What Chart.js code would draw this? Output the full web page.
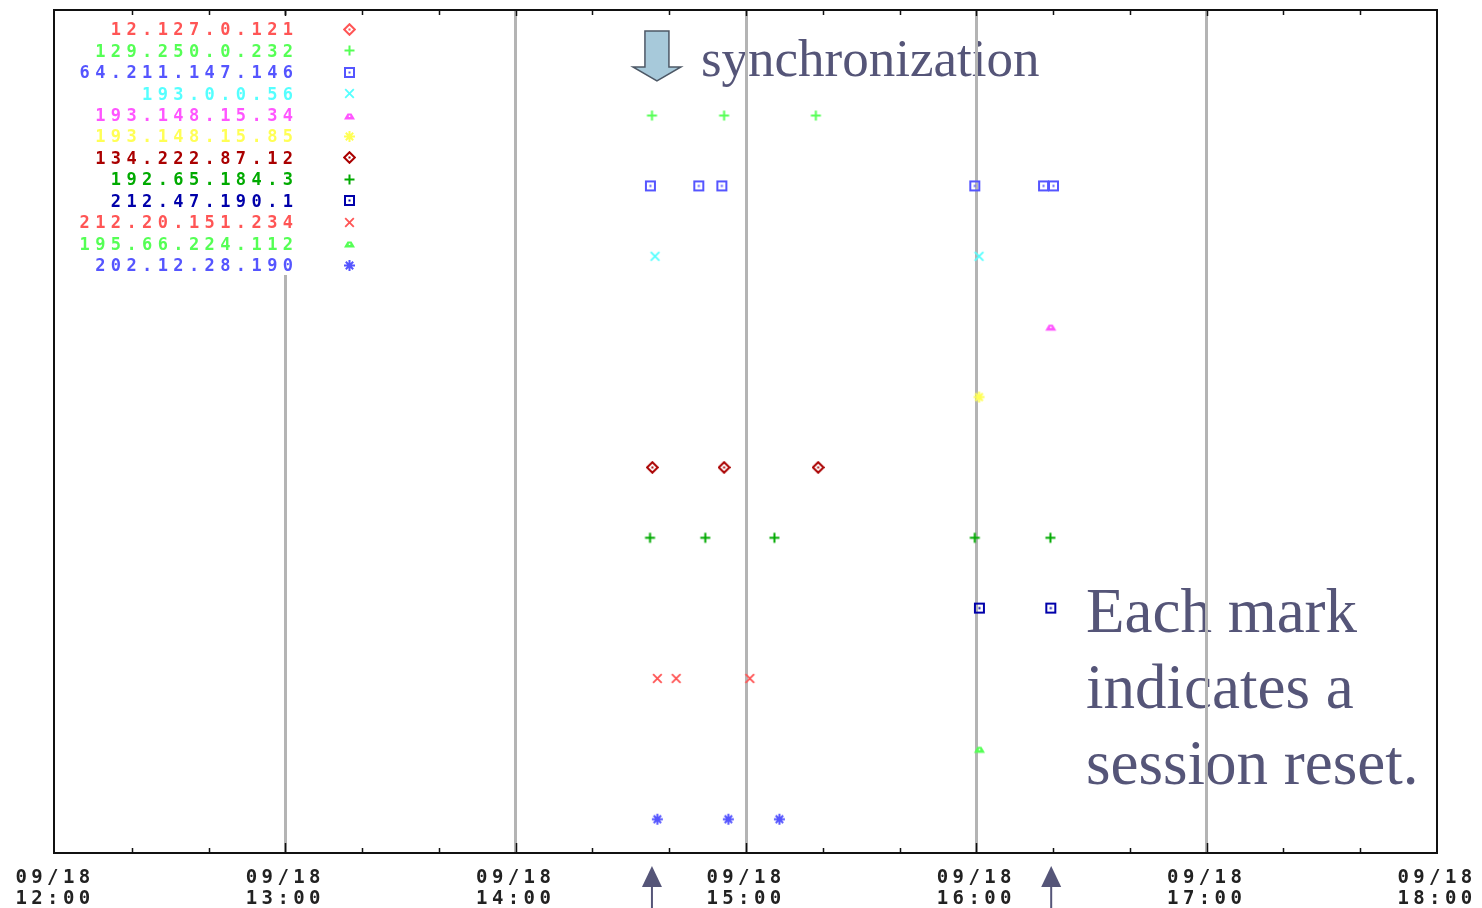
<!DOCTYPE html>
<html><head><meta charset="utf-8">
<script src="https://cdn.jsdelivr.net/npm/chart.js@4.4.1/dist/chart.umd.min.js"></script>
<style>html,body{margin:0;padding:0;background:#fff;}#c{display:block;}</style>
</head><body>
<canvas id="c" width="1482" height="908"></canvas>
<script>
// ---- data (times of session resets on 09/18, one row per peer) ----
const hosts = ['12.127.0.121','129.250.0.232','64.211.147.146','193.0.0.56','193.148.15.34','193.148.15.85',
  '134.222.87.12','192.65.184.3','212.47.190.1','212.20.151.234','195.66.224.112','202.12.28.190'];
const hostColors = ['#ff5555','#55ff55','#5555ff','#55ffff','#ff55ff','#ffff55',
  '#aa0000','#00aa00','#0000aa','#ff5555','#55ff55','#5555ff'];
const hostMarkers = ['diamond','plus','square','x','tri','star','diamond','plus','square','x','tri','star'];

const resets01 = [];
const resets02 = ['14:35:30','14:54:18','15:18:12'];
const resets03 = ['14:35:06','14:47:42','14:53:42','15:59:36','16:17:30','16:20:06'];
const resets04 = ['14:36:18','16:00:42'];
const resets05 = ['16:19:24'];
const resets06 = ['16:00:42'];
const resets07 = ['14:35:36','14:54:18','15:18:48'];
const resets08 = ['14:35:00','14:49:24','15:07:24','15:59:36','16:19:18'];
const resets09 = ['16:00:48','16:19:24'];
const resets10 = ['14:36:54','14:41:48','15:01:00'];
const resets11 = ['16:00:48'];
const resets12 = ['14:36:54','14:55:24','15:08:42'];

const dateLabel = '09/18';
const hourLabels = ['12:00','13:00','14:00','15:00','16:00','17:00','18:00'];
const syncArrowTime = '14:36:48';
const resetArrowTimes = ['14:35:30','16:19:30'];
const syncText = 'synchronization';
const noteLines = ['Each mark','indicates a','session reset.'];

// ---- helpers ----
const allResets = [resets01,resets02,resets03,resets04,resets05,resets06,resets07,resets08,resets09,resets10,resets11,resets12];
function toMin(s){ const p = s.split(':').map(Number); return (p[0]-12)*60 + p[1] + (p[2]||0)/60; }

function makeMarker(kind, color){
  const c = document.createElement('canvas'); c.width = 13; c.height = 13;
  const g = c.getContext('2d');
  g.strokeStyle = color; g.fillStyle = color; g.lineWidth = 2;
  switch(kind){
    case 'diamond':
      g.lineWidth = 2;
      g.beginPath(); g.moveTo(6.5,1.2); g.lineTo(11.8,6.5); g.lineTo(6.5,11.8); g.lineTo(1.2,6.5); g.closePath(); g.stroke();
      g.fillRect(5.5,5.5,2,2); break;
    case 'plus':
      g.beginPath(); g.moveTo(1.5,6.5); g.lineTo(11.5,6.5); g.moveTo(6.5,1.5); g.lineTo(6.5,11.5); g.stroke(); break;
    case 'square':
      g.strokeRect(2,2,9,9); g.fillRect(5.5,5.5,2,2); break;
    case 'x':
      g.lineWidth = 1.8;
      g.beginPath(); g.moveTo(2.2,2.2); g.lineTo(10.8,10.8); g.moveTo(10.8,2.2); g.lineTo(2.2,10.8); g.stroke(); break;
    case 'tri':
      g.beginPath(); g.moveTo(1,10.5); g.lineTo(12,10.5); g.lineTo(8.5,4.5); g.lineTo(4.5,4.5); g.closePath(); g.fill();
      g.fillStyle = '#fff'; g.fillRect(5.8,6.5,1.5,1.5); break;
    case 'star':
      g.beginPath(); g.moveTo(1,6.5); g.lineTo(12,6.5); g.moveTo(6.5,1); g.lineTo(6.5,12);
      g.moveTo(2.8,2.8); g.lineTo(10.2,10.2); g.moveTo(10.2,2.8); g.lineTo(2.8,10.2); g.stroke(); break;
  }
  return c;
}
const markerImgs = hosts.map((h,i)=>makeMarker(hostMarkers[i], hostColors[i]));

const datasets = hosts.map((h,i)=>({
  label: h,
  data: allResets[i].map(t=>({x: toMin(t), y: i+1})),
  pointStyle: markerImgs[i],
  pointRadius: 6,
  borderColor: hostColors[i],
  backgroundColor: hostColors[i],
  showLine: false
}));

const deco = {
  id: 'deco',
  beforeDraw(chart){
    const {ctx, chartArea: a, scales: {x}} = chart;
    ctx.save();
    ctx.letterSpacing = '0px';
    const cx = x.getPixelForValue(toMin(syncArrowTime));
    const ay = a.top + 21;
    ctx.beginPath();
    ctx.moveTo(cx-12, ay); ctx.lineTo(cx+12, ay); ctx.lineTo(cx+12, ay+36); ctx.lineTo(cx+24, ay+36);
    ctx.lineTo(cx, ay+50); ctx.lineTo(cx-24, ay+36); ctx.lineTo(cx-12, ay+36); ctx.closePath();
    ctx.fillStyle = '#a7c9da'; ctx.fill();
    ctx.strokeStyle = '#4d5866'; ctx.lineWidth = 1.5; ctx.stroke();
    ctx.fillStyle = '#555578'; ctx.textAlign = 'left'; ctx.textBaseline = 'alphabetic';
    ctx.font = '53px "Liberation Serif", "Times New Roman", serif';
    ctx.fillText(syncText, cx + 44, a.top + 66);
    ctx.font = '63px "Liberation Serif", "Times New Roman", serif';
    noteLines.forEach((t,i)=>ctx.fillText(t, a.left + 1031, a.top + 622 + i*76));
    ctx.restore();
    ctx.letterSpacing = '4.4px';
  },
  beforeDatasetsDraw(chart){
    const {ctx, chartArea: a} = chart;
    ctx.save();
    ctx.fillStyle = '#fff';
    ctx.fillRect(a.left + 4, a.top + 5, 306, 260);
    ctx.restore();
  },
  afterDatasetsDraw(chart){
    const {ctx, chartArea: a, scales: {x}} = chart;
    ctx.save();
    // legend
    ctx.font = 'bold 17px "DejaVu Sans Mono", monospace';
    ctx.letterSpacing = '5.4px';
    ctx.textAlign = 'right'; ctx.textBaseline = 'middle';
    chart.data.datasets.forEach((d,i)=>{
      const y = a.top + 19.3 + i*21.43;
      ctx.fillStyle = hostColors[i];
      ctx.fillText(d.label, a.left + 238 + 5.4, y + 1.5);
      const img = d.pointStyle;
      ctx.drawImage(img, Math.round(a.left + 294 - img.width/2), Math.round(y - img.height/2));
    });
    // inward ticks
    ctx.strokeStyle = '#111'; ctx.lineWidth = 1.5;
    x.ticks.forEach(t=>{
      const v = Math.round(t.value);
      if (v <= 0 || v >= 360) return;
      const px = Math.round(x.getPixelForValue(v)) + 0.5;
      const major = v % 60 === 0;
      ctx.beginPath();
      ctx.moveTo(px, a.bottom); ctx.lineTo(px, a.bottom - (major ? 10 : 5));
      ctx.moveTo(px, a.top); ctx.lineTo(px, a.top + (major ? 6 : 5));
      ctx.stroke();
    });
    // frame
    ctx.strokeStyle = '#111'; ctx.lineWidth = 2;
    ctx.strokeRect(a.left - 1, a.top, a.right - a.left + 1, a.bottom - a.top);
    ctx.restore();
  },
  afterDraw(chart){
    const {ctx, scales: {x}} = chart;
    ctx.save();
    ctx.fillStyle = '#555578'; ctx.strokeStyle = '#555578'; ctx.lineWidth = 2;
    resetArrowTimes.forEach(t=>{
      const cx = x.getPixelForValue(toMin(t));
      ctx.beginPath(); ctx.moveTo(cx, 866); ctx.lineTo(cx+10, 887); ctx.lineTo(cx-10, 887); ctx.closePath(); ctx.fill();
      ctx.beginPath(); ctx.moveTo(cx, 885); ctx.lineTo(cx, 908); ctx.stroke();
    });
    ctx.restore();
  }
};

new Chart(document.getElementById('c'), {
  type: 'scatter',
  data: { datasets },
  options: {
    responsive: false,
    devicePixelRatio: 1,
    animation: false,
    events: [],
    layout: { padding: { left: 55, right: 45, top: 10, bottom: 0 } },
    plugins: { legend: { display: false }, tooltip: { enabled: false } },
    scales: {
      x: {
        type: 'linear', min: 0, max: 360,
        afterFit: s => { s.height = 55; },
        border: { display: false },
        grid: {
          drawTicks: false,
          lineWidth: 3,
          color: c => {
            const v = c.tick ? Math.round(c.tick.value) : -1;
            return (v > 0 && v < 360 && v % 60 === 0) ? '#b4b4b4' : 'rgba(0,0,0,0)';
          }
        },
        ticks: {
          stepSize: 20, autoSkip: false, maxRotation: 0, minRotation: 0,
          padding: 15, color: '#222',
          font: { family: '"DejaVu Sans Mono", monospace', size: 19, weight: 'bold', lineHeight: 1.1 },
          callback: v => { const r = Math.round(v); return r % 60 === 0 ? [dateLabel, hourLabels[r/60]] : ''; }
        }
      },
      y: {
        type: 'linear', min: 0.5, max: 12.48, reverse: true, display: false
      }
    }
  },
  plugins: [deco]
});
</script>
</body></html>
